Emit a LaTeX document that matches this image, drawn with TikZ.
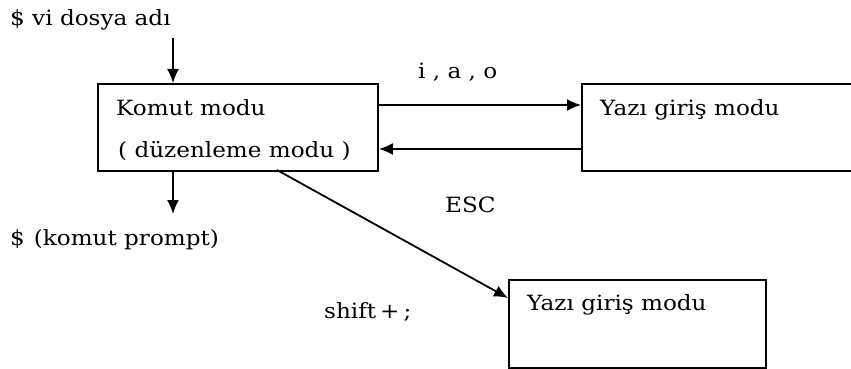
\documentclass[tikz,border=0pt]{standalone}
\usepackage{fontspec}
\setmainfont[FakeStretch=1.1]{DejaVu Serif}
\usetikzlibrary{arrows.meta}
\begin{document}
\begin{tikzpicture}[x=1pt,y=-1pt,
  modebox/.style={draw,line width=1.9pt,rectangle,anchor=north west,inner sep=0pt},
  txt/.style={anchor=base west,inner sep=0pt,font=\fontsize{21}{24}\selectfont},
  flow/.style={line width=1.8pt,-{Latex[length=14pt,width=12pt]}}]
\useasboundingbox (0,0) rectangle (851,369);
\clip (0,0) rectangle (851,369);
% mode boxes
\node[modebox,minimum width=280pt,minimum height=87pt] (komut) at (97,83) {};
\node[modebox,minimum width=300pt,minimum height=87pt] (yazi) at (581,83) {};
\node[modebox,minimum width=257pt,minimum height=88pt] (yazi2) at (508,279) {};
% texts inside the boxes
\node[txt] (k1) at (116,115) {Komut modu};
\node[txt] (k2) at (118,157) {( düzenleme modu )};
\node[txt] (y1) at (600,115) {Yazı giriş modu};
\node[txt] (y2) at (527,310) {Yazı giriş modu};
% free texts
\node[txt] (start) at (10,26) {\$ vi dosya adı};
\node[txt] (prompt) at (10,245) {\$\hspace{9pt}(komut prompt)};
\node[txt] (iao) at (418,78) {i , a , o};
\node[txt] (esc) at (445,212) {ESC};
\node[txt] (shift) at (324,318) {shift\hspace{4pt}+\hspace{4pt};};
% connector ends
\coordinate (topin) at (173,38);
\coordinate (botout) at (173,214);
% connectors
\draw[flow] (topin) -- (komut.north west -| topin);
\draw[flow] (komut.south west -| botout) -- (botout);
\draw[flow] (komut.east |- 0,105) -- (yazi.west |- 0,105);
\draw[flow] (yazi.west |- 0,149) -- (komut.east |- 0,149);
\draw[flow] (277,170) -- (yazi2.west |- 0,298);
\end{tikzpicture}
\end{document}
